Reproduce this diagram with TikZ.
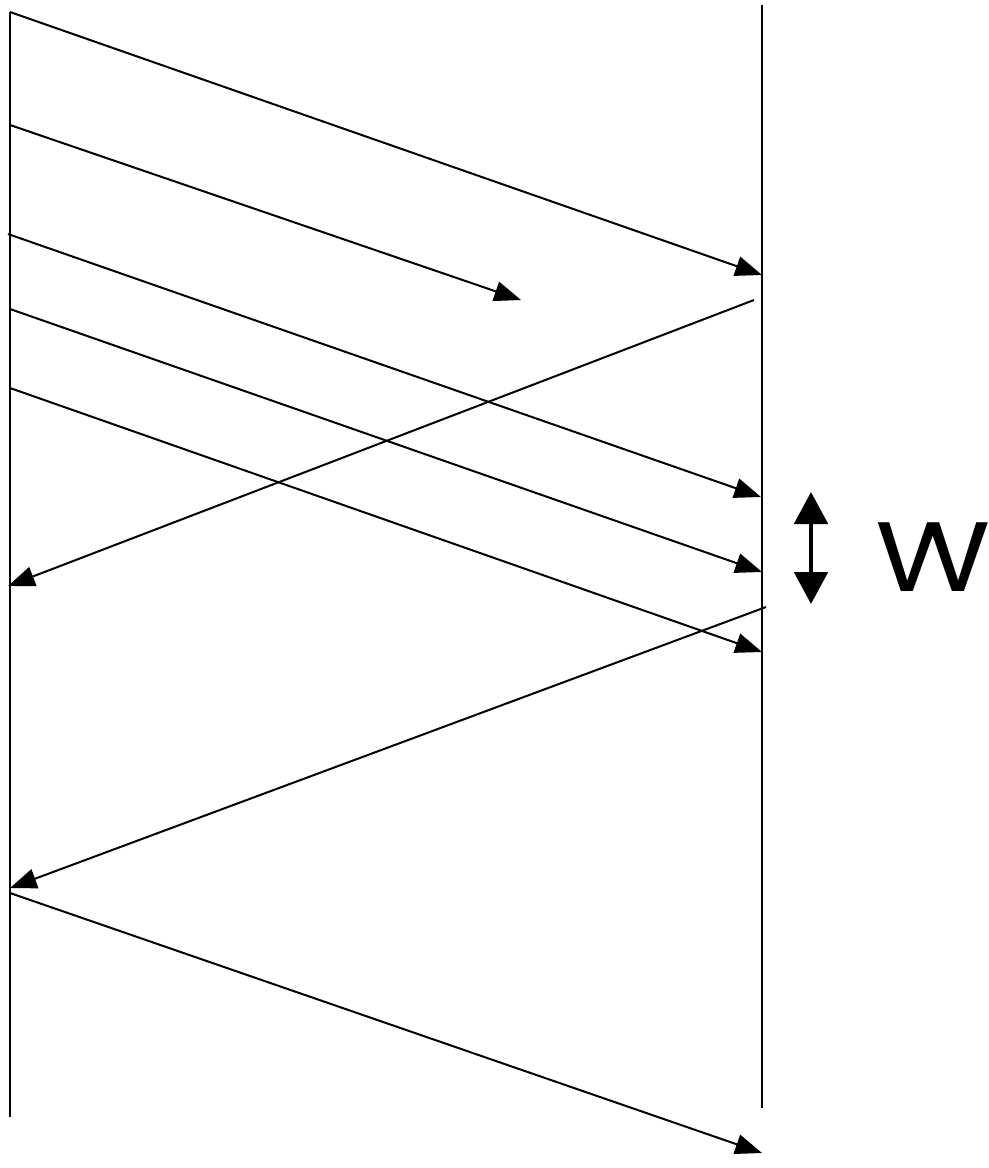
\documentclass[tikz,border=0pt]{standalone}
\usepackage{fontspec}
\newfontfamily\wfont{Poppins}
\usetikzlibrary{arrows.meta}
\begin{document}
\begin{tikzpicture}[x=0.75pt,y=-0.75pt,
  line/.style={line width=1.5pt},
  msg/.style={line width=1.5pt,-{Triangle[length=20pt,width=15pt]}},
  win/.style={line width=3.2pt,{Triangle[length=24pt,width=25pt]}-{Triangle[length=24pt,width=25pt]}},
  lab/.style={font=\wfont\fontsize{74}{74}\selectfont, inner sep=0pt, xscale=1.2}]
\useasboundingbox (0,0) rectangle (989,1168);
% lifelines
\coordinate (Ltop) at (10,12);
\coordinate (Lbot) at (10,1117);
\coordinate (Rtop) at (762,5);
\coordinate (Rbot) at (762,1108);
\draw[line] (Ltop) -- (Lbot);
\draw[line] (Rtop) -- (Rbot);
% forward messages
\coordinate (s1) at (10,12);   \coordinate (e1) at (762,275);
\coordinate (s2) at (10,125);  \coordinate (e2) at (521,300);
\coordinate (s3) at (8,234);   \coordinate (e3) at (761,497);
\coordinate (s4) at (10,309);  \coordinate (e4) at (762,572);
\coordinate (s5) at (10,388);  \coordinate (e5) at (762,652);
\coordinate (s6) at (10,893);  \coordinate (e6) at (762,1153);
\draw[msg] (s1) -- (e1);
\draw[msg] (s2) -- (e2);
\draw[msg] (s3) -- (e3);
\draw[msg] (s4) -- (e4);
\draw[msg] (s5) -- (e5);
\draw[msg] (s6) -- (e6);
% backward messages
\coordinate (b1s) at (754,300); \coordinate (b1e) at (8,586);
\coordinate (b2s) at (766,607); \coordinate (b2e) at (10,888);
\draw[msg] (b1s) -- (b1e);
\draw[msg] (b2s) -- (b2e);
% window
\coordinate (wt) at (811,492);
\coordinate (wb) at (811,604);
\draw[win] (wt) -- (wb);
\node[lab] (W) at (933,557) {W};
\end{tikzpicture}
\end{document}
